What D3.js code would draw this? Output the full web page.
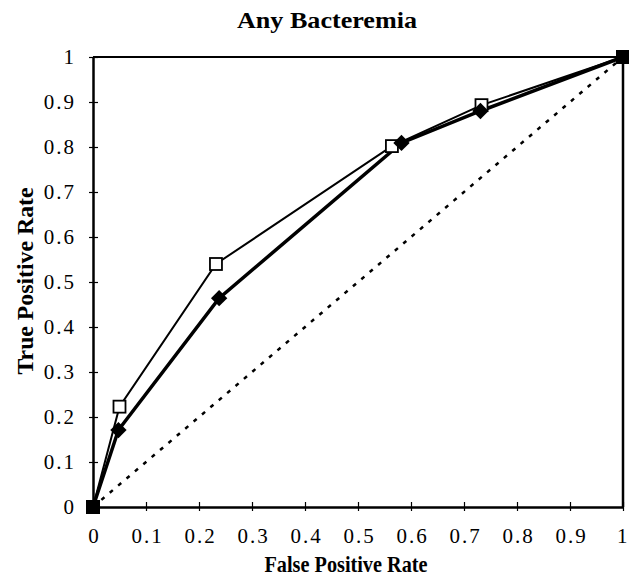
<!DOCTYPE html>
<html>
<head>
<meta charset="utf-8">
<script src="https://cdn.jsdelivr.net/npm/d3@7"></script>
<style>
body { margin: 0; background: #fff; }
text { font-family: "Liberation Serif", "Times New Roman", serif; fill: #000; }
</style>
</head>
<body>
<script>
// data
var fprSquare = [0, 0.05, 0.232, 0.564, 0.733, 1];
var tprSquare = [0, 0.223, 0.54, 0.802, 0.893, 1];
var fprDiamond = [0, 0.048, 0.238, 0.582, 0.731, 1];
var tprDiamond = [0, 0.171, 0.464, 0.809, 0.88, 1];
var xTicks = [0, 0.1, 0.2, 0.3, 0.4, 0.5, 0.6, 0.7, 0.8, 0.9, 1];
var yTicks = [0, 0.1, 0.2, 0.3, 0.4, 0.5, 0.6, 0.7, 0.8, 0.9, 1];

var margin = {top: 57, right: 6, bottom: 72, left: 93},
	width = 629 - margin.left - margin.right,
	height = 579 - margin.top - margin.bottom;

var svg = d3.select("body").append("svg")
	.attr("width", 629)
	.attr("height", 579);

var g = svg.append("g")
	.attr("transform", "translate(" + margin.left + "," + margin.top + ")");

var x = d3.scaleLinear().domain([0, 1]).range([0, width]);
var y = d3.scaleLinear().domain([0, 1]).range([height, 0]);

var fmt = function (d) { return d === 0 || d === 1 ? d3.format("d")(d) : d3.format(".1f")(d); };

// x axis, ticks cross the line
var xaxis = d3.axisBottom(x)
	.tickValues(xTicks)
	.tickSizeInner(-5)
	.tickSizeOuter(0)
	.tickFormat(fmt);
var gx = g.append("g")
	.attr("transform", "translate(0," + height + ")")
	.call(xaxis);
gx.attr("font-family", null).attr("font-size", null);
gx.selectAll(".tick line").attr("y1", 4).attr("stroke-width", 1.2);
gx.select(".domain").attr("stroke-width", 2.5);
gx.selectAll("text")
	.style("font-size", "21px").style("letter-spacing", "2px")
	.attr("dy", null).attr("y", 36).attr("x", 1);
// last label sits against the right edge
gx.selectAll(".tick").filter(function (d) { return d === 1; }).select("text")
	.style("letter-spacing", null)
	.attr("text-anchor", "end").attr("x", 4);

// y axis
var yaxis = d3.axisLeft(y)
	.tickValues(yTicks)
	.tickSizeInner(-5)
	.tickSizeOuter(0)
	.tickFormat(fmt);
var gy = g.append("g").call(yaxis);
gy.attr("font-family", null).attr("font-size", null);
gy.selectAll(".tick line").attr("x1", -4).attr("stroke-width", 1.2);
gy.select(".domain").attr("stroke-width", 2.5);
gy.selectAll("text")
	.style("font-size", "21px").style("letter-spacing", "2px")
	.attr("x", -17);

// top and right frame
g.append("line").attr("x1", 0).attr("x2", width).attr("y1", 0).attr("y2", 0)
	.attr("stroke", "#000").attr("stroke-width", 2);
g.append("line").attr("x1", width).attr("x2", width).attr("y1", 0).attr("y2", height)
	.attr("stroke", "#000").attr("stroke-width", 2.5);

// chance diagonal
g.append("line")
	.attr("x1", x(0)).attr("y1", y(0))
	.attr("x2", x(1)).attr("y2", y(1))
	.attr("stroke", "#000")
	.attr("stroke-width", 2.5)
	.attr("stroke-dasharray", "4,7");

var sq = fprSquare.map(function (d, i) { return {x: d, y: tprSquare[i]}; });
var dm = fprDiamond.map(function (d, i) { return {x: d, y: tprDiamond[i]}; });

var line = d3.line()
	.x(function (d) { return x(d.x); })
	.y(function (d) { return y(d.y); });

g.append("path").datum(sq)
	.attr("d", line).attr("fill", "none")
	.attr("stroke", "#000").attr("stroke-width", 2);

g.append("path").datum(dm)
	.attr("d", line).attr("fill", "none")
	.attr("stroke", "#000").attr("stroke-width", 3.5);

// open square markers (inner points)
g.selectAll(".sq")
	.data(sq.slice(1, -1))
	.enter().append("rect")
	.attr("x", function (d) { return x(d.x) - 6; })
	.attr("y", function (d) { return y(d.y) - 6; })
	.attr("width", 12).attr("height", 12)
	.attr("fill", "#fff").attr("stroke", "#000").attr("stroke-width", 1.8);

// filled diamond markers
var diamond = d3.symbol().type(d3.symbolDiamond2).size(170);
g.selectAll(".dm")
	.data(dm.slice(1, -1))
	.enter().append("path")
	.attr("d", diamond)
	.attr("transform", function (d) { return "translate(" + x(d.x) + "," + y(d.y) + ")"; })
	.attr("fill", "#000");

// endpoints drawn as filled squares
g.selectAll(".end")
	.data([sq[0], sq[sq.length - 1]])
	.enter().append("rect")
	.attr("x", function (d) { return x(d.x) - 7; })
	.attr("y", function (d) { return y(d.y) - 7; })
	.attr("width", 14).attr("height", 14)
	.attr("fill", "#000");

// title and labels
svg.append("text")
	.attr("x", 327).attr("y", 28)
	.attr("text-anchor", "middle")
	.attr("textLength", 180).attr("lengthAdjust", "spacingAndGlyphs")
	.style("font-size", "24px").style("font-weight", "bold")
	.text("Any Bacteremia");

svg.append("text")
	.attr("x", 346).attr("y", 572)
	.attr("text-anchor", "middle")
	.attr("textLength", 163).attr("lengthAdjust", "spacingAndGlyphs")
	.style("font-size", "24px").style("font-weight", "bold")
	.text("False Positive Rate");

svg.append("text")
	.attr("transform", "translate(33,281) rotate(-90)")
	.attr("text-anchor", "middle")
	.attr("textLength", 187).attr("lengthAdjust", "spacingAndGlyphs")
	.style("font-size", "24px").style("font-weight", "bold")
	.text("True Positive Rate");
</script>
</body>
</html>
